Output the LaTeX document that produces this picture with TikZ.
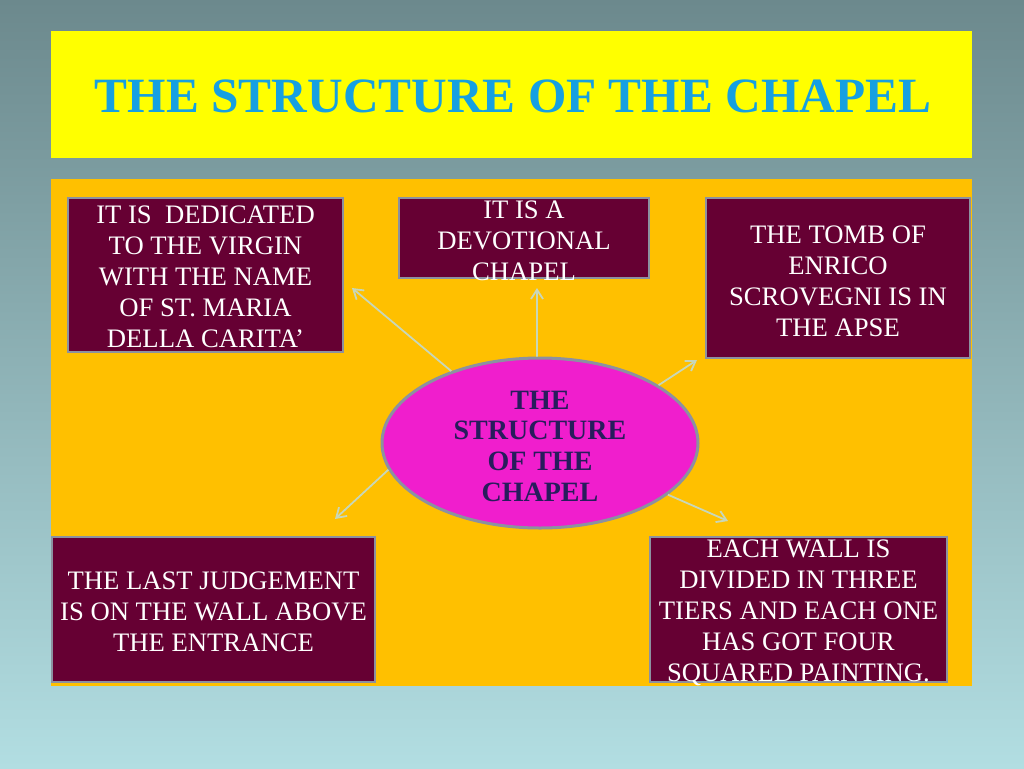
\documentclass[tikz,border=0pt]{standalone}
\usepackage{fontspec}
\setmainfont{Liberation Serif}
\usetikzlibrary{arrows.meta,shapes.geometric}
\def\px{0.75pt}
\definecolor{slidetop}{RGB}{108,137,141}
\definecolor{slidebot}{RGB}{178,222,226}
\definecolor{titleyellow}{RGB}{255,255,0}
\definecolor{titleblue}{RGB}{22,160,225}
\definecolor{panelorange}{RGB}{255,192,0}
\definecolor{boxmaroon}{RGB}{102,0,51}
\definecolor{boxedge}{RGB}{140,145,160}
\definecolor{hubpink}{RGB}{240,30,205}
\definecolor{hubtext}{RGB}{40,28,92}
\definecolor{arrowpale}{RGB}{200,215,185}
\tikzset{
	titlebar/.style={fill=titleyellow, inner sep=0pt, text=titleblue, font=\fontsize{37}{40}\selectfont\bfseries},
	infobox/.style={draw=boxedge, line width=2*\px, fill=boxmaroon, inner sep=0pt},
	infotext/.style={text=white, align=center, inner sep=0pt, font=\fontsize{20}{23.25}\selectfont},
	hubnode/.style={ellipse, draw=boxedge, line width=3*\px, fill=hubpink, minimum width=316*\px, minimum height=170*\px, inner sep=0pt},
	hubtext/.style={text=hubtext, align=center, inner sep=0pt, font=\fontsize{21}{23}\selectfont\bfseries},
	spoke/.style={draw=arrowpale, line width=1.8*\px, -{Straight Barb[length=7pt,width=9pt]}}
}

\begin{document}
\begin{tikzpicture}[x=\px, y=-\px]
			%%%%% START %%%%%
			
			\shade[top color=slidetop, bottom color=slidebot] (0, 0) rectangle (1024, 768);
			
			\node[titlebar, minimum width=921*\px, minimum height=127*\px] (title) at (511.5, 94.5) {};
			\node[titlebar] at (513, 96) {THE STRUCTURE OF THE CHAPEL};
			
			\fill[panelorange] (51, 179) rectangle (972, 686);
			
			\node[infobox, minimum width=275*\px, minimum height=154*\px] (virgin) at (205.5, 275) {};
			\node[infotext] at (205.5, 277) {IT IS~~DEDICATED\\TO THE VIRGIN\\WITH THE NAME\\OF ST. MARIA\\DELLA CARITA’};
			
			\node[infobox, minimum width=250*\px, minimum height=80*\px] (devotion) at (524, 238) {};
			\node[infotext] at (524, 241) {IT IS A\\DEVOTIONAL\\CHAPEL};
			
			\node[infobox, minimum width=264*\px, minimum height=160*\px] (tomb) at (838, 278) {};
			\node[infotext] at (838, 281) {THE TOMB OF\\ENRICO\\SCROVEGNI IS IN\\THE APSE};
			
			\node[infobox, minimum width=323*\px, minimum height=145*\px] (judgement) at (213.5, 609.5) {};
			\node[infotext] at (213.5, 612) {THE LAST JUDGEMENT\\IS ON THE WALL ABOVE\\THE ENTRANCE};
			
			\node[infobox, minimum width=297*\px, minimum height=145*\px] (walls) at (798.5, 609.5) {};
			\node[infotext] at (798.5, 613) {EACH WALL IS\\DIVIDED IN THREE\\TIERS AND EACH ONE\\HAS GOT FOUR\\SQUARED PAINTING.};
			
			\node[hubnode] (hub) at (540, 443) {};
			\node[hubtext] at (540, 446) {THE\\STRUCTURE\\OF THE\\CHAPEL};
			
			% arrow tips stop short of the boxes
			\coordinate (tipvirgin) at (352, 288);
			\coordinate (tipdevotion) at (537, 288);
			\coordinate (tiptomb) at (697, 360);
			\coordinate (tipjudgement) at (335, 519);
			\coordinate (tipwalls) at (728, 521);
			
			\draw[spoke] (hub.141) -- (tipvirgin);
			\draw[spoke] (hub.92) -- (tipdevotion);
			\draw[spoke] (hub.26) -- (tiptomb);
			\draw[spoke] (hub.190) -- (tipjudgement);
			\draw[spoke] (hub.338) -- (tipwalls);
			
			%%%%% END %%%%%
\end{tikzpicture}
\end{document}
